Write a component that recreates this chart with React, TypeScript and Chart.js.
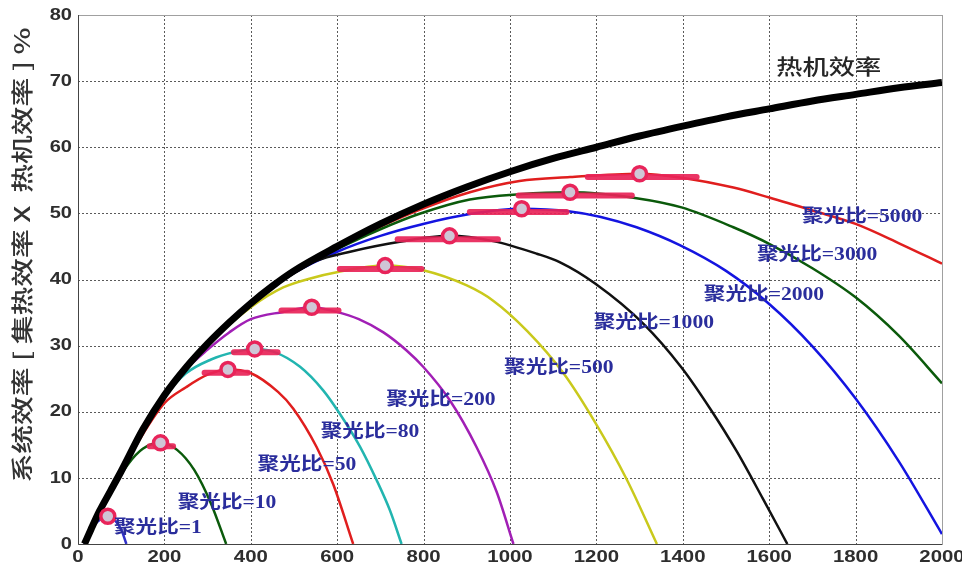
import React, { useEffect, useRef } from 'react';
import { Chart, registerables } from 'chart.js';

Chart.register(...registerables);

// ---- axis ticks ----
const xTickValues = [0, 200, 400, 600, 800, 1000, 1200, 1400, 1600, 1800, 2000];
const yTickValues = [0, 10, 20, 30, 40, 50, 60, 70, 80];

// ---- heat engine efficiency (热机效率) ----
const heatX = [15, 30, 50, 75, 100, 150, 200, 250, 300, 350, 400, 450, 500, 600, 700, 800, 900, 1000, 1100, 1200, 1300, 1400, 1500, 1600, 1700, 1800, 1900, 2000];
const heatY = [0, 2.2, 5.0, 8.0, 11.0, 17.3, 22.5, 26.7, 30.3, 33.5, 36.4, 39.0, 41.3, 45.0, 48.4, 51.4, 54.0, 56.3, 58.3, 60.0, 61.7, 63.2, 64.6, 65.8, 67.0, 68.0, 69.0, 69.8];

// ---- system efficiency curves per concentration ratio ----
const c1X = [15, 35, 55, 69, 85, 100, 112];
const c1Y = [0, 2.6, 3.9, 4.2, 3.6, 2.2, 0];

const c10X = [15, 50, 80, 115, 150, 191, 230, 269, 308, 343];
const c10Y = [0, 4.8, 8.4, 12.0, 14.4, 15.3, 14.2, 11.2, 6.1, 0];

const c50X = [15, 100, 150, 200, 250, 300, 347, 398, 463, 498, 552, 591, 637];
const c50Y = [0, 10.8, 16.6, 21.3, 23.7, 25.6, 26.4, 25.9, 23.0, 20.5, 14.7, 9.0, 0];

const c80X = [15, 100, 150, 200, 250, 308, 360, 409, 452, 514, 568, 606, 653, 691, 722, 749];
const c80Y = [0, 10.9, 17.0, 22.2, 25.8, 27.9, 29.0, 29.5, 29.1, 26.8, 23.2, 19.7, 14.7, 9.7, 5.1, 0];

const c200X = [15, 100, 200, 250, 300, 350, 400, 475, 541, 599, 650, 707, 760, 799, 861, 923, 969, 1008];
const c200Y = [0, 10.9, 22.3, 26.4, 29.4, 32.0, 34.0, 35.1, 35.8, 35.1, 34.0, 32.0, 29.3, 26.8, 21.7, 14.6, 7.9, 0];

const c500X = [15, 100, 200, 300, 400, 475, 540, 599, 711, 799, 900, 961, 1040, 1123, 1197, 1270, 1340];
const c500Y = [0, 10.9, 22.4, 30.1, 35.8, 38.8, 40.2, 41.1, 42.1, 41.4, 39.1, 36.8, 32.2, 25.9, 18.4, 9.8, 0];

const c1000X = [15, 100, 200, 300, 400, 500, 550, 630, 745, 860, 961, 1062, 1116, 1197, 1309, 1397, 1463, 1525, 1585, 1642];
const c1000Y = [0, 10.9, 22.4, 30.2, 36.3, 41.0, 42.8, 44.2, 45.7, 46.6, 45.8, 43.9, 42.6, 39.4, 33.3, 26.7, 20.5, 14.0, 6.9, 0];

const c2000X = [15, 100, 200, 300, 400, 500, 600, 700, 799, 907, 1027, 1139, 1208, 1293, 1393, 1500, 1600, 1700, 1800, 1900, 2000];
const c2000Y = [0, 10.9, 22.4, 30.2, 36.3, 41.0, 44.2, 46.6, 48.4, 49.9, 50.7, 50.3, 49.5, 47.9, 45.2, 41.3, 36.3, 29.9, 22.0, 12.5, 1.5];

const c3000X = [15, 100, 200, 300, 400, 500, 600, 700, 789, 907, 1022, 1139, 1293, 1397, 1517, 1600, 1700, 1800, 1900, 2000];
const c3000Y = [0, 10.9, 22.4, 30.2, 36.3, 41.1, 44.6, 47.6, 49.9, 52.1, 52.9, 53.2, 52.3, 50.9, 47.9, 45.4, 41.7, 37.3, 31.5, 24.3];

const c5000X = [15, 100, 200, 300, 400, 500, 600, 700, 789, 907, 1022, 1139, 1300, 1397, 1517, 1600, 1702, 1800, 1903, 2000];
const c5000Y = [0, 10.9, 22.4, 30.2, 36.3, 41.1, 44.8, 48.0, 50.5, 53.2, 54.9, 55.5, 56.0, 55.4, 53.9, 52.4, 50.4, 48.4, 45.4, 42.4];

// ---- labels / peaks ----
const ratios = ['1', '10', '50', '80', '200', '500', '1000', '2000', '3000', '5000'];
const peakX = [69, 191, 347, 409, 541, 711, 860, 1027, 1139, 1300];
const peakY = [4.2, 15.3, 26.4, 29.5, 35.8, 42.1, 46.6, 50.7, 53.2, 56.0];
const bandStart = [null, 166, 293, 361, 471, 606, 740, 907, 1020, 1180];
const bandEnd = [null, 220, 393, 462, 603, 795, 972, 1131, 1282, 1432];
const labelX = [185, 345, 530, 676, 840, 1113, 1333, 1588, 1711, 1815];
const labelY = [2.3, 6.2, 11.9, 16.9, 21.7, 26.6, 33.4, 37.6, 43.6, 49.4];

const heatLabel = '热机效率';
const heatLabelX = 1738;
const heatLabelY = 72.3;
const yTitle = '系统效率 [ 集热效率 X  热机效率 ] %';

const curveXs = [c1X, c10X, c50X, c80X, c200X, c500X, c1000X, c2000X, c3000X, c5000X];
const curveYs = [c1Y, c10Y, c50Y, c80Y, c200Y, c500Y, c1000Y, c2000Y, c3000Y, c5000Y];
const curveColors = ['#3030c8', '#0b5a0b', '#e01e1e', '#22b5b0', '#a11fb5', '#c9c91c', '#111111', '#1414e0', '#0b5a0b', '#e01e1e'];

const toPts = (xs: number[], ys: number[]) => xs.map((x, i) => ({ x, y: ys[i] }));

const TICK_FONT = "bold 17px 'Liberation Sans', Arial";

const overlayPlugin = {
  id: 'overlay',
  beforeDatasetsDraw(chart: any) {
    const { ctx, chartArea } = chart;
    const xs = chart.scales.x;
    const ys = chart.scales.y;
    const { left, right, top, bottom } = chartArea;
    ctx.save();
    ctx.strokeStyle = '#5a5a5a';
    ctx.lineWidth = 1;
    ctx.setLineDash([2, 2]);
    ctx.beginPath();
    xTickValues.forEach((v) => {
      const px = Math.round(xs.getPixelForValue(v)) + 0.5;
      ctx.moveTo(px, top);
      ctx.lineTo(px, bottom);
    });
    yTickValues.forEach((v) => {
      const py = Math.round(ys.getPixelForValue(v)) + 0.5;
      ctx.moveTo(left, py);
      ctx.lineTo(right, py);
    });
    ctx.stroke();
    ctx.setLineDash([]);
    ctx.strokeStyle = '#a0a0a0';
    ctx.strokeRect(left + 0.5, top + 0.5, right - left, bottom - top);
    ctx.strokeStyle = '#444';
    ctx.beginPath();
    ctx.moveTo(left + 0.5, top);
    ctx.lineTo(left + 0.5, bottom + 0.5);
    ctx.lineTo(right, bottom + 0.5);
    ctx.stroke();
    ctx.fillStyle = '#2e2e2e';
    ctx.font = TICK_FONT;
    ctx.textBaseline = 'middle';
    ctx.textAlign = 'center';
    xTickValues.forEach((v) => {
      ctx.save();
      ctx.translate(xs.getPixelForValue(v), bottom + 13);
      ctx.scale(1.2, 1);
      ctx.fillText(String(v), 0, 0);
      ctx.restore();
    });
    ctx.textAlign = 'right';
    yTickValues.forEach((v) => {
      ctx.save();
      ctx.translate(left - 6, ys.getPixelForValue(v));
      ctx.scale(1.18, 1);
      ctx.fillText(String(v), 0, 0);
      ctx.restore();
    });
    ctx.restore();
  },
  afterDatasetsDraw(chart: any) {
    const { ctx } = chart;
    const xs = chart.scales.x;
    const ys = chart.scales.y;
    ctx.save();
    ctx.textAlign = 'center';
    ctx.textBaseline = 'middle';
    ctx.fillStyle = '#2a2d9c';
    ctx.font = "bold 18px 'Liberation Serif', 'Noto Sans CJK SC'";
    ratios.forEach((r, i) => {
      const px = xs.getPixelForValue(labelX[i]);
      const py = ys.getPixelForValue(labelY[i]);
      ctx.save();
      ctx.translate(px, py);
      ctx.scale(1.2, 1);
      ctx.fillText('聚光比=' + r, 0, 0);
      ctx.restore();
    });
    ctx.fillStyle = '#262626';
    ctx.font = "500 21px 'Noto Sans CJK SC'";
    ctx.save();
    ctx.translate(xs.getPixelForValue(heatLabelX), ys.getPixelForValue(heatLabelY));
    ctx.scale(1.25, 1);
    ctx.fillText(heatLabel, 0, 0);
    ctx.restore();
    ctx.restore();
  },
  afterDraw(chart: any) {
    const { ctx } = chart;
    ctx.save();
    ctx.font = "500 22px 'Noto Sans CJK SC'";
    ctx.fillStyle = '#333';
    ctx.textAlign = 'center';
    ctx.textBaseline = 'middle';
    const w = ctx.measureText(yTitle).width;
    const target = 455;
    ctx.translate(22, 255);
    ctx.rotate(-Math.PI / 2);
    ctx.scale(target / w, 1);
    ctx.fillText(yTitle, 0, 0);
    ctx.restore();
  },
};

export default function App() {
  const ref = useRef<HTMLCanvasElement>(null);
  useEffect(() => {
    document.body.style.margin = '0';
    const datasets: any[] = [];
    ratios.forEach((r, i) => {
      if (bandStart[i] != null) {
        datasets.push({
          label: 'band ' + r,
          data: [{ x: bandStart[i], y: peakY[i] - 0.5 }, { x: peakX[i], y: peakY[i] - 0.5 }, { x: bandEnd[i], y: peakY[i] - 0.5 }],
          showLine: true,
          borderColor: 'rgba(232,36,88,0.92)',
          borderWidth: 6,
          borderCapStyle: 'round',
          pointRadius: 0,
          order: 1,
        });
      }
    });
    datasets.push({
      label: 'peaks',
      data: toPts(peakX, peakY),
      showLine: false,
      pointRadius: 7,
      pointBorderWidth: 3.5,
      pointBorderColor: '#e8245a',
      pointBackgroundColor: '#cfc6d6',
      order: 0,
    });
    datasets.push({
      label: heatLabel,
      data: toPts(heatX, heatY),
      showLine: true,
      borderColor: '#000',
      borderWidth: 7,
      pointRadius: 0,
      cubicInterpolationMode: 'monotone',
      order: 2,
    });
    ratios.forEach((r, i) => {
      datasets.push({
        label: '聚光比=' + r,
        data: toPts(curveXs[i], curveYs[i]),
        showLine: true,
        borderColor: curveColors[i],
        borderWidth: 2.5,
        pointRadius: 0,
        cubicInterpolationMode: 'monotone',
        order: 3,
      });
    });

    const chart = new Chart(ref.current!, {
      type: 'scatter',
      data: { datasets },
      plugins: [overlayPlugin],
      options: {
        animation: false,
        responsive: false,
        layout: { padding: { top: 15, right: 20, left: 0, bottom: 0 } },
        plugins: { legend: { display: false }, tooltip: { enabled: false } },
        scales: {
          x: {
            type: 'linear',
            min: 0,
            max: 2000,
            afterBuildTicks: (s: any) => { s.ticks = xTickValues.map((v) => ({ value: v })); },
            afterFit: (s: any) => { s.height = 25; },
            ticks: { display: false },
            grid: { display: false },
            border: { display: false },
          },
          y: {
            type: 'linear',
            min: 0,
            max: 80,
            afterBuildTicks: (s: any) => { s.ticks = yTickValues.map((v) => ({ value: v })); },
            afterFit: (s: any) => { s.width = 78; },
            ticks: { display: false },
            grid: { display: false },
            border: { display: false },
          },
        },
      },
    });
    return () => chart.destroy();
  }, []);
  return (
    <div style={{ width: 962, height: 569, background: '#fff' }}>
      <canvas ref={ref} width={962} height={569} />
    </div>
  );
}
